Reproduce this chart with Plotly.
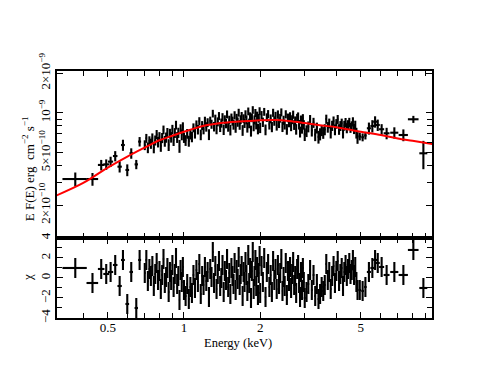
import math
import plotly.graph_objects as go
from plotly.subplots import make_subplots

# flux values are in units of 1e-10 erg cm^-2 s^-1
low_e = [0.372, 0.435, 0.471, 0.493, 0.513, 0.535, 0.557, 0.574, 0.597, 0.619, 0.648, 0.668]
low_w = [0.041, 0.023, 0.014, 0.013, 0.012, 0.011, 0.011, 0.010, 0.010, 0.010, 0.010, 0.009]
low_f = [3.16, 3.16, 4.04, 4.08, 4.28, 4.72, 3.92, 5.72, 3.70, 4.95, 4.08, 6.07]
low_ferr = [0.38, 0.35, 0.37, 0.37, 0.38, 0.42, 0.38, 0.55, 0.38, 0.45, 0.33, 0.50]
low_chi = [1.0, -0.5, 0.9, 0.4, 0.6, 1.3, -0.8, 1.8, -2.6, 0.6, -3.0, 1.8]

seg_a_e = [0.70, 0.71, 0.72, 0.73, 0.74, 0.75, 0.76, 0.77, 0.78, 0.79,
           0.80, 0.81, 0.82, 0.83, 0.84, 0.85, 0.86, 0.87, 0.88, 0.89,
           0.90, 0.91, 0.92, 0.93, 0.94, 0.95, 0.96, 0.97, 0.98, 0.99]
seg_a_f = [5.72, 6.44, 5.47, 6.15, 5.87, 6.47, 5.48, 6.21, 6.88, 6.03,
           6.60, 5.64, 6.48, 7.46, 6.13, 6.53, 7.11, 5.74, 6.99, 6.56,
           7.52, 6.23, 7.07, 8.11, 6.55, 7.10, 5.62, 7.57, 6.85, 7.86]
seg_a_ferr = [0.49, 0.50, 0.51, 0.51, 0.52, 0.53, 0.53, 0.54, 0.55, 0.55,
              0.56, 0.56, 0.57, 0.57, 0.58, 0.58, 0.59, 0.59, 0.60, 0.60,
              0.61, 0.61, 0.61, 0.62, 0.62, 0.63, 0.63, 0.64, 0.64, 0.64]
seg_a_chi = [0.5, 1.8, -0.3, 0.9, 0.2, 1.2, -0.8, 0.4, 1.5, -0.2,
             0.7, -1.1, 0.3, 1.9, -0.5, 0.1, 1.0, -1.4, 0.6, -0.2,
             1.3, -0.9, 0.4, 2.0, -0.6, 0.2, -2.2, 0.8, -0.4, 1.1]

seg_b_e = [1.000, 1.015, 1.030, 1.045, 1.060, 1.075, 1.090, 1.105, 1.120, 1.135,
           1.150, 1.165, 1.180, 1.195, 1.210, 1.225, 1.240, 1.255, 1.270, 1.285,
           1.300, 1.315, 1.330, 1.345, 1.360, 1.375, 1.390, 1.405, 1.420, 1.435,
           1.450, 1.465, 1.480, 1.495, 1.510, 1.525, 1.540, 1.555, 1.570, 1.585,
           1.600, 1.615, 1.630, 1.645, 1.660, 1.675, 1.690, 1.705, 1.720, 1.735,
           1.750, 1.765, 1.780, 1.795, 1.810, 1.825, 1.840, 1.855, 1.870, 1.885,
           1.900, 1.915, 1.930, 1.945, 1.960, 1.975, 1.990]
seg_b_f = [6.51, 6.21, 6.97, 6.14, 6.90, 6.60, 7.74, 7.01, 8.17, 7.49,
           8.67, 6.85, 8.05, 7.53, 8.73, 7.86, 8.47, 6.88, 8.73, 8.24,
           9.91, 7.90, 9.05, 7.56, 8.59, 9.49, 7.84, 8.41, 9.30, 7.49,
           8.92, 8.33, 9.77, 7.89, 8.85, 7.44, 9.22, 8.70, 8.16, 9.62,
           7.77, 9.16, 8.55, 10.07, 8.15, 8.92, 9.48, 7.40, 9.08, 8.39,
           9.79, 8.89, 7.79, 10.30, 8.36, 9.41, 7.32, 9.22, 10.56, 7.97,
           8.89, 10.02, 8.21, 9.54, 7.59, 9.14, 10.35]
seg_b_ferr = [0.58, 0.58, 0.59, 0.59, 0.60, 0.60, 0.60, 0.61, 0.61, 0.62,
              0.62, 0.63, 0.63, 0.64, 0.64, 0.64, 0.65, 0.65, 0.65, 0.65,
              0.66, 0.66, 0.66, 0.66, 0.67, 0.67, 0.67, 0.67, 0.67, 0.68,
              0.68, 0.68, 0.68, 0.68, 0.68, 0.68, 0.68, 0.68, 0.69, 0.69,
              0.69, 0.69, 0.69, 0.69, 0.69, 0.69, 0.69, 0.69, 0.69, 0.69,
              0.69, 0.69, 0.69, 0.70, 0.70, 0.70, 0.70, 0.70, 0.70, 0.70,
              0.70, 0.70, 0.70, 0.70, 0.70, 0.70, 0.70]
seg_b_chi = [-1.2, -1.8, -0.6, -2.1, -0.9, -1.5, 0.3, -1.0, 0.8, -0.4,
             1.4, -1.6, 0.2, -0.7, 1.1, -0.3, 0.6, -1.9, 0.9, 0.1,
             2.6, -0.5, 1.2, -1.1, 0.4, 1.7, -0.8, 0.0, 1.3, -1.4,
             0.7, -0.2, 1.9, -0.9, 0.5, -1.6, 1.0, 0.2, -0.6, 1.5,
             -1.2, 0.8, -0.1, 2.1, -0.7, 0.4, 1.2, -1.8, 0.6, -0.4,
             1.6, 0.3, -1.3, 2.3, -0.5, 1.0, -2.0, 0.7, 2.6, -1.1,
             0.2, 1.8, -0.8, 1.1, -1.7, 0.5, 2.2]

seg_c_e = [2.000, 2.025, 2.050, 2.075, 2.100, 2.125, 2.150, 2.175, 2.200, 2.225,
           2.250, 2.275, 2.300, 2.325, 2.350, 2.375, 2.400, 2.425, 2.450, 2.475,
           2.500, 2.525, 2.550, 2.575, 2.600, 2.625, 2.650, 2.675, 2.700, 2.725,
           2.750, 2.775, 2.800, 2.825, 2.850, 2.875, 2.900, 2.925, 2.950, 2.975]
seg_c_f = [7.74, 9.64, 8.53, 10.22, 7.48, 9.24, 9.82, 8.19, 9.05, 7.85,
           10.05, 8.71, 9.49, 8.06, 9.75, 8.39, 9.15, 10.13, 7.87, 8.83,
           8.19, 9.79, 7.54, 9.20, 8.49, 9.44, 7.97, 8.92, 9.73, 8.13,
           8.73, 7.54, 9.17, 9.42, 8.17, 7.20, 8.89, 7.65, 9.12, 8.15]
seg_c_ferr = [0.70, 0.70, 0.70, 0.70, 0.70, 0.70, 0.70, 0.70, 0.70, 0.70,
              0.71, 0.71, 0.71, 0.71, 0.71, 0.70, 0.70, 0.70, 0.70, 0.70,
              0.70, 0.70, 0.70, 0.70, 0.70, 0.69, 0.69, 0.69, 0.69, 0.69,
              0.69, 0.69, 0.68, 0.68, 0.68, 0.68, 0.68, 0.68, 0.68, 0.67]
seg_c_chi = [-1.5, 1.2, -0.4, 2.0, -1.9, 0.6, 1.4, -0.9, 0.3, -1.4,
             1.7, -0.2, 0.9, -1.1, 1.3, -0.6, 0.5, 1.9, -1.3, 0.1,
             -0.8, 1.5, -1.7, 0.7, -0.3, 1.1, -1.0, 0.4, 1.6, -0.7,
             0.2, -1.5, 0.9, 1.3, -0.5, -1.9, 0.6, -1.2, 1.0, -0.4]

seg_d_e = [3.00, 3.05, 3.10, 3.15, 3.20, 3.25, 3.30, 3.35, 3.40, 3.45,
           3.50, 3.55, 3.60, 3.65, 3.70, 3.75, 3.80, 3.85, 3.90, 3.95,
           4.00, 4.05, 4.10, 4.15, 4.20, 4.25, 4.30, 4.35, 4.40, 4.45,
           4.50, 4.55, 4.60, 4.65, 4.70, 4.75, 4.80, 4.85]
seg_d_f = [6.89, 7.32, 7.88, 8.90, 7.37, 8.45, 6.86, 7.72, 6.59, 6.93,
           7.40, 7.09, 7.50, 8.99, 7.81, 8.36, 7.12, 8.02, 8.70, 7.48,
           8.29, 8.96, 7.53, 7.99, 8.37, 7.10, 8.03, 8.48, 7.70, 8.14,
           8.51, 7.74, 7.98, 8.61, 7.58, 8.08, 7.06, 6.50]
seg_d_ferr = [0.76, 0.75, 0.75, 0.75, 0.74, 0.74, 0.74, 0.73, 0.73, 0.73,
              0.72, 0.72, 0.72, 0.72, 0.72, 0.71, 0.71, 0.71, 0.71, 0.70,
              0.70, 0.70, 0.70, 0.69, 0.69, 0.69, 0.69, 0.68, 0.68, 0.68,
              0.68, 0.67, 0.67, 0.67, 0.66, 0.66, 0.66, 0.66]
seg_d_chi = [-2.0, -1.4, -0.6, 0.8, -1.2, 0.3, -1.8, -0.6, -2.1, -1.6,
             -0.9, -1.3, -0.7, 1.4, -0.2, 0.6, -1.1, 0.2, 1.2, -0.5,
             0.7, 1.7, -0.3, 0.4, 1.0, -0.8, 0.6, 1.3, 0.2, 0.9,
             1.5, 0.4, 0.8, 1.8, 0.3, 1.1, -0.4, -1.2]

high_e = [4.95, 5.08, 5.21, 5.38, 5.55, 5.69, 5.83, 6.04, 6.32, 6.78, 7.36, 8.06, 8.83]
high_w = [0.06, 0.06, 0.06, 0.10, 0.10, 0.10, 0.11, 0.14, 0.17, 0.25, 0.31, 0.39, 0.32]
high_f = [6.65, 6.55, 6.75, 7.66, 7.97, 8.59, 8.11, 7.53, 7.02, 7.09, 6.81, 8.96, 4.95]
high_ferr = [0.45, 0.45, 0.45, 0.80, 0.85, 0.85, 0.80, 0.70, 0.70, 0.70, 0.70, 0.55, 1.20]
high_chi = [-1.2, -1.3, -0.9, 0.6, 1.0, 1.8, 1.5, 1.1, 0.3, 0.6, 0.3, 2.8, -1.0]

model_e = [0.31, 0.40, 0.50, 0.60, 0.70, 0.80, 0.90, 1.0, 1.2, 1.4, 1.6, 1.8,
           2.0, 2.3, 2.6, 3.0, 3.5, 4.0, 5.0, 6.0, 7.0, 8.0, 9.6]
model_f = [2.35, 2.95, 3.86, 4.70, 5.47, 6.21, 6.73, 7.20, 8.00, 8.40, 8.60, 8.70,
           8.80, 8.85, 8.70, 8.40, 8.05, 7.80, 7.20, 6.80, 6.40, 6.15, 5.82]

SCALE = 1e-10
FONT = "Liberation Serif"
BAR = 2.1

fig = make_subplots(rows=2, cols=1, shared_xaxes=True, vertical_spacing=0,
                    row_heights=[0.676, 0.324])


def add_points(e, half, f, ferr, chi):
    xerr = half if isinstance(half, list) else [half] * len(e)
    fig.add_trace(go.Scatter(
        x=e, y=[v * SCALE for v in f], mode="markers",
        marker=dict(size=1, color="black"),
        error_x=dict(type="data", array=xerr, color="black", thickness=BAR, width=0),
        error_y=dict(type="data", array=[v * SCALE for v in ferr], color="black",
                     thickness=BAR, width=0),
        showlegend=False), row=1, col=1)
    fig.add_trace(go.Scatter(
        x=e, y=chi, mode="markers",
        marker=dict(size=1, color="black"),
        error_x=dict(type="data", array=xerr, color="black", thickness=BAR, width=0),
        error_y=dict(type="constant", value=1, color="black", thickness=BAR, width=0),
        showlegend=False), row=2, col=1)


add_points(low_e, low_w, low_f, low_ferr, low_chi)
add_points(seg_a_e, 0.005, seg_a_f, seg_a_ferr, seg_a_chi)
add_points(seg_b_e, 0.0075, seg_b_f, seg_b_ferr, seg_b_chi)
add_points(seg_c_e, 0.0125, seg_c_f, seg_c_ferr, seg_c_chi)
add_points(seg_d_e, 0.025, seg_d_f, seg_d_ferr, seg_d_chi)
add_points(high_e, high_w, high_f, high_ferr, high_chi)

fig.add_trace(go.Scatter(x=model_e, y=[v * SCALE for v in model_f], mode="lines",
                         line=dict(color="red", width=2, shape="spline"),
                         showlegend=False), row=1, col=1)

axis_style = dict(showline=True, linecolor="black", linewidth=1.6, mirror="ticks",
                  ticks="inside", tickcolor="black", tickwidth=1.3, ticklen=6,
                  showgrid=False, zeroline=False,
                  tickfont=dict(family=FONT, size=13, color="black"))

xminor = [0.4, 0.6, 0.7, 0.8, 0.9, 3, 4, 6, 7, 8, 9]
fig.update_xaxes(type="log", range=[math.log10(0.315), math.log10(9.55)],
                 tickmode="array", tickvals=[0.5, 1, 2, 5], ticktext=["0.5", "1", "2", "5"],
                 ticklabelstandoff=-3,
                 minor=dict(tickmode="array", tickvals=xminor, ticks="inside",
                            ticklen=5, tickcolor="black", tickwidth=1.3),
                 **axis_style)
fig.update_xaxes(showticklabels=False, row=1, col=1)

fig.update_yaxes(type="log", range=[math.log10(1.13e-10), math.log10(2.08e-9)],
                 tickmode="array", tickvals=[2e-10, 5e-10, 1e-9, 2e-9],
                 ticktext=["2×10<sup>−10</sup>", "5×10<sup>−10</sup>",
                           "10<sup>−9</sup>", "2×10<sup>−9</sup>"],
                 tickangle=-90,
                 minor=dict(tickmode="array", tickvals=[3e-10, 4e-10, 6e-10, 7e-10, 8e-10, 9e-10],
                            ticks="inside", ticklen=5, tickcolor="black", tickwidth=1.3),
                 row=1, col=1, **axis_style)
fig.update_yaxes(range=[-4, 4], tickmode="array", tickvals=[-4, -2, 0, 2, 4],
                 tickangle=-90,
                 minor=dict(tickmode="array", tickvals=[-3, -1, 1, 3],
                            ticks="inside", ticklen=5, tickcolor="black", tickwidth=1.3),
                 row=2, col=1, **axis_style)

fig.update_layout(
    width=491, height=379,
    margin=dict(l=49, r=67, t=63, b=69),
    paper_bgcolor="white", plot_bgcolor="white",
    font=dict(family=FONT, size=12, color="black"),
    annotations=[
        dict(text="E F(E) erg  cm<sup>−2</sup> s<sup>−1</sup>", textangle=-90,
             xref="paper", yref="paper", x=-0.077, y=0.603, xanchor="center",
             yanchor="middle", showarrow=False, font=dict(family=FONT, size=13)),
        dict(text="χ", textangle=-90, xref="paper", yref="paper", x=-0.077, y=0.162,
             xanchor="center", yanchor="middle", showarrow=False,
             font=dict(family=FONT, size=13)),
        dict(text="Energy (keV)", xref="paper", yref="paper", x=0.483, y=-0.101,
             xanchor="center", yanchor="middle", showarrow=False,
             font=dict(family=FONT, size=12.5)),
    ],
)

fig.write_html("out.html")
